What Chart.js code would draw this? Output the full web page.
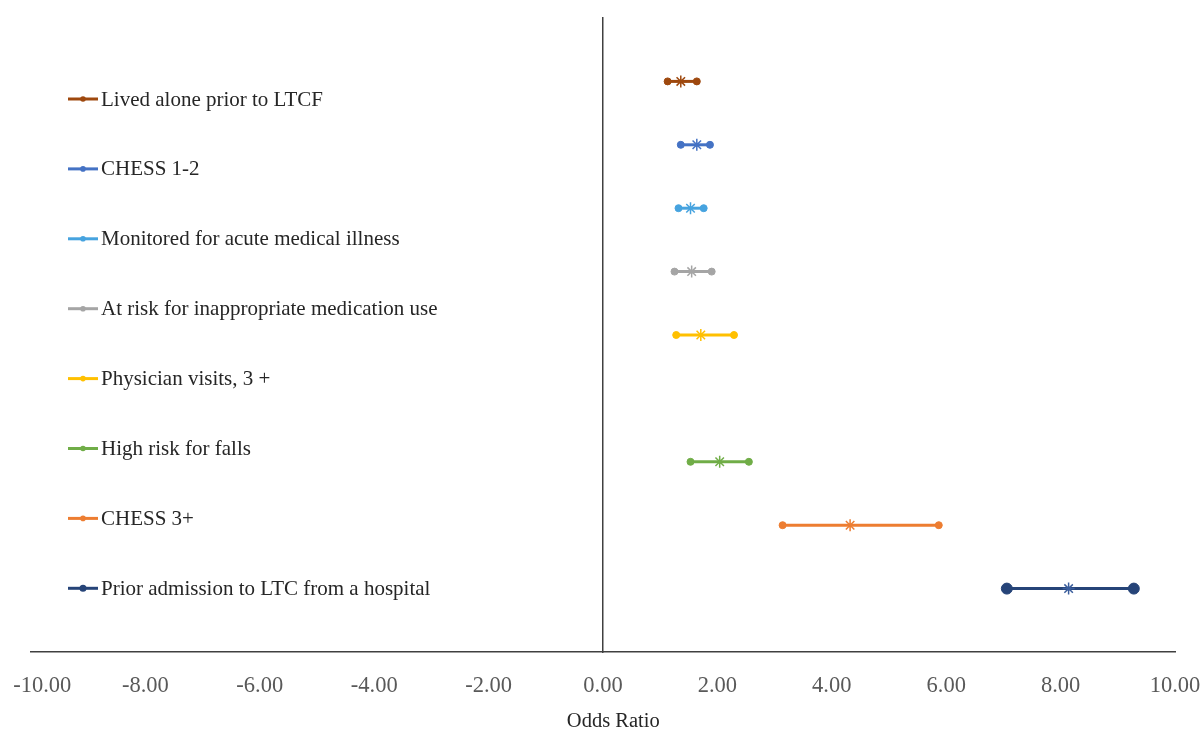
<!DOCTYPE html>
<html>
<head>
<meta charset="utf-8">
<script src="https://cdn.jsdelivr.net/npm/chart.js@4.4.1/dist/chart.umd.min.js"></script>
<style>
  body { margin: 0; background: #fff; }
  #wrap { width: 1204px; height: 731px; }
</style>
</head>
<body>
<div id="wrap"><canvas id="chartContainer"></canvas></div>
<script>
// Data (odds ratios with 95% CI)
const categories = [
    'Lived alone prior to LTCF',
    'CHESS 1-2',
    'Monitored for acute medical illness',
    'At risk for inappropriate medication use',
    'Physician visits, 3 +',
    'High risk for falls',
    'CHESS 3+',
    'Prior admission to LTC from a hospital'
];
const rowPositions = [9, 8, 7, 6, 5, 3, 2, 1];
const lowerCI = [1.13, 1.36, 1.32, 1.25, 1.28, 1.53, 3.14, 7.06];
const oddsRatios = [1.36, 1.64, 1.53, 1.55, 1.71, 2.04, 4.32, 8.14];
const upperCI = [1.64, 1.87, 1.76, 1.90, 2.29, 2.55, 5.87, 9.28];
const seriesColors = ['#9E480E', '#4472C4', '#46A3DF', '#A5A5A5', '#FFC000', '#70AD47', '#ED7D31', '#264478'];
const xTickValues = [-10, -8, -6, -4, -2, 0, 2, 4, 6, 8, 10];

const fontFamily = "'Liberation Serif', 'Times New Roman', serif";

// one dataset per row: lower CI, odds ratio, upper CI
const datasets = categories.map((name, i) => {
    const big = i === categories.length - 1;
    const dotR = big ? 5.5 : 3.5;
    const starColor = big ? '#3A5D9C' : seriesColors[i];
    return {
        label: name,
        data: [
            { x: lowerCI[i], y: rowPositions[i] },
            { x: oddsRatios[i], y: rowPositions[i] },
            { x: upperCI[i], y: rowPositions[i] }
        ],
        borderColor: seriesColors[i],
        borderWidth: 3,
        pointStyle: ['circle', 'star', 'circle'],
        pointRadius: [dotR, 6, dotR],
        pointBorderWidth: [1, 1.5, 1],
        pointBackgroundColor: seriesColors[i],
        pointBorderColor: [seriesColors[i], starColor, seriesColors[i]],
        showLine: true
    };
});

// legend drawn down the left side inside the plot, like the Excel original
const sideLegend = {
    id: 'sideLegend',
    afterDraw(chart) {
        const ctx = chart.ctx;
        ctx.save();
        ctx.font = '21px ' + fontFamily;
        ctx.textBaseline = 'middle';
        chart.data.datasets.forEach((ds, i) => {
            const y = 99 + i * 69.9;
            ctx.strokeStyle = ds.borderColor;
            ctx.lineWidth = 3;
            ctx.beginPath();
            ctx.moveTo(68, y);
            ctx.lineTo(98, y);
            ctx.stroke();
            ctx.fillStyle = ds.borderColor;
            ctx.beginPath();
            ctx.arc(83, y, i === chart.data.datasets.length - 1 ? 3.5 : 2.8, 0, Math.PI * 2);
            ctx.fill();
            ctx.fillStyle = '#262626';
            ctx.fillText(ds.label, 101, y + 1);
        });
        ctx.restore();
    }
};

const ctx = document.getElementById('chartContainer').getContext('2d');
const chart = new Chart(ctx, {
    type: 'scatter',
    data: { datasets: datasets },
    plugins: [sideLegend],
    options: {
        responsive: true,
        maintainAspectRatio: false,
        animation: false,
        layout: { padding: { top: 18, bottom: 0, left: 0, right: 0 } },
        plugins: {
            legend: { display: false },
            tooltip: { enabled: false }
        },
        scales: {
            x: {
                type: 'linear',
                min: -10,
                max: 10,
                afterBuildTicks: (scale) => {
                    scale.ticks = xTickValues.map(v => ({ value: v }));
                },
                // pin the plot edges to match the original
                afterFit: (scale) => {
                    scale.height = 79;
                    scale.paddingLeft = 31;
                    scale.paddingRight = 29;
                },
                grid: { display: false, drawTicks: false },
                border: { display: true, color: '#404040', width: 1.5 },
                ticks: {
                    color: '#595959',
                    padding: 21,
                    maxRotation: 0,
                    font: { family: fontFamily, size: 22.5 },
                    // first label nudged inward so it stays on the page
                    callback: (v) => (v === -10 ? '\u00a0\u00a0\u00a0\u00a0' : '') + Number(v).toFixed(2)
                },
                title: {
                    display: true,
                    text: '\u00a0\u00a0\u00a0\u00a0Odds Ratio',
                    color: '#262626',
                    padding: { top: 11, bottom: -3 },
                    font: { family: fontFamily, size: 20.5 }
                }
            },
            y: {
                type: 'linear',
                min: 0,
                max: 10,
                position: { x: 0 },
                grid: { display: false },
                border: { display: true, color: '#404040', width: 1.5 },
                ticks: { display: false }
            }
        }
    }
});
</script>
</body>
</html>
